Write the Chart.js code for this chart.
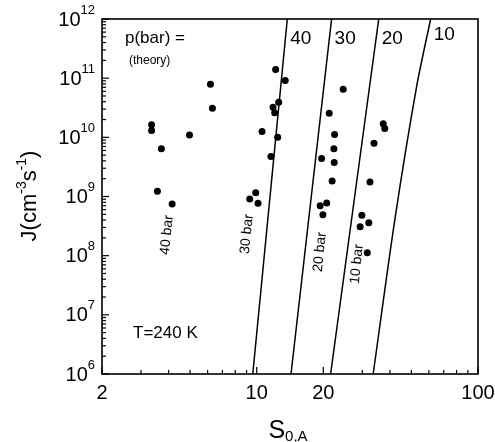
<!DOCTYPE html>
<html>
<head>
<meta charset="utf-8">
<script src="https://cdn.jsdelivr.net/npm/chart.js@4.4.0/dist/chart.umd.min.js"></script>
<style>
  body { margin: 0; background: #fff; }
</style>
</head>
<body>
<canvas id="chart" width="495" height="442"></canvas>
<script>
// measured points: S0,A (x) and J in cm-3 s-1 (y), one pair of arrays per pressure
var s_40bar = [3.35, 3.35, 3.71, 3.56, 4.15, 4.97, 6.18, 6.31];
var j_40bar = [1.63e10, 1.31e10, 6.4e9, 1.23e9, 7.5e8, 1.10e10, 7.9e10, 3.1e10];

var s_30bar = [12.18, 13.46, 12.57, 11.85, 12.06, 10.57, 12.44, 11.60, 9.90, 9.30, 10.14];
var j_30bar = [1.40e11, 9.1e10, 3.93e10, 3.23e10, 2.6e10, 1.26e10, 1.0e10, 4.75e9, 1.16e9, 9.1e8, 7.7e8];

var s_20bar = [24.6, 21.27, 22.49, 22.33, 19.65, 22.4, 21.92, 20.72, 19.35, 19.92];
var j_20bar = [6.5e10, 2.56e10, 1.12e10, 6.4e9, 4.39e9, 3.76e9, 1.83e9, 7.8e8, 6.97e8, 4.93e8];

var s_10bar = [37.3, 37.9, 33.9, 32.5, 29.87, 32.1, 29.34, 31.6];
var j_10bar = [1.69e10, 1.41e10, 7.96e9, 1.75e9, 4.81e8, 3.6e8, 3.08e8, 1.12e8];

// theory curves, p(bar) = 40, 30, 20, 10
var theory_p = ["40", "30", "20", "10"];
var theory_s = [[9.60, 13.75], [14.29, 21.8], [21.58, 35.6], [33.6, 42.1, 52.7, 61.1]];
var theory_j = [[1e6, 1e12], [1e6, 1e12], [1e6, 1e12], [1e6, 4.08e8, 6.95e10, 1e12]];

// axes
var x_ticks = [2, 3, 4, 5, 6, 7, 8, 9, 10, 20, 30, 40, 50, 60, 70, 80, 90, 100];
var x_labels = [2, 10, 20, 100];
var y_exps = [6, 7, 8, 9, 10, 11, 12];

function pts(xs, ys) {
  var out = [];
  for (let i = 0; i < xs.length; i++) out.push({ x: xs[i], y: ys[i] });
  return out;
}

var datasets = [];
for (let i = 0; i < theory_p.length; i++) {
  datasets.push({
    type: "line",
    label: theory_p[i],
    data: pts(theory_s[i], theory_j[i]),
    borderColor: "#000",
    borderWidth: 1.5,
    pointRadius: 0,
    fill: false,
    tension: 0.3,
  });
}
var groups = [[s_40bar, j_40bar], [s_30bar, j_30bar], [s_20bar, j_20bar], [s_10bar, j_10bar]];
for (let i = 0; i < groups.length; i++) {
  datasets.push({
    type: "scatter",
    data: pts(groups[i][0], groups[i][1]),
    backgroundColor: "#000",
    borderColor: "#000",
    pointRadius: 3.5,
    borderWidth: 0,
  });
}

var FONT = "'Liberation Sans', Arial, sans-serif";

// draw a run of text pieces (with super/subscripts), centred on 0,0 of current transform
function drawRun(ctx, pieces) {
  var total = 0;
  pieces.forEach(function (p) {
    ctx.font = p.size + "px " + FONT;
    p.w = ctx.measureText(p.t).width;
    total += p.w;
  });
  var x = -total / 2;
  ctx.textAlign = "left";
  ctx.textBaseline = "middle";
  pieces.forEach(function (p) {
    ctx.font = p.size + "px " + FONT;
    ctx.fillText(p.t, x, p.dy || 0);
    x += p.w;
  });
}

var framePlugin = {
  id: "frame",
  afterDraw: function (chart) {
    var ctx = chart.ctx;
    var a = chart.chartArea;
    var xs = chart.scales.x;
    var ys = chart.scales.y;
    ctx.save();
    ctx.strokeStyle = "#000";
    ctx.fillStyle = "#000";

    // frame
    ctx.lineWidth = 1.6;
    ctx.strokeRect(a.left, a.top, a.right - a.left, a.bottom - a.top);

    // inward ticks, bottom
    ctx.lineWidth = 1.2;
    x_ticks.forEach(function (v) {
      var px = xs.getPixelForValue(v);
      var len = x_labels.indexOf(v) >= 0 ? 7 : 4;
      ctx.beginPath();
      ctx.moveTo(px, a.bottom);
      ctx.lineTo(px, a.bottom - len);
      ctx.stroke();
    });
    // inward ticks, left
    y_exps.forEach(function (e) {
      var py = ys.getPixelForValue(Math.pow(10, e));
      ctx.beginPath();
      ctx.moveTo(a.left, py);
      ctx.lineTo(a.left + 7, py);
      ctx.stroke();
      if (e < 12) {
        for (let m = 2; m <= 9; m++) {
          var pm = ys.getPixelForValue(m * Math.pow(10, e));
          ctx.beginPath();
          ctx.moveTo(a.left, pm);
          ctx.lineTo(a.left + 4, pm);
          ctx.stroke();
        }
      }
    });

    // y tick labels 10^n
    y_exps.forEach(function (e) {
      var py = ys.getPixelForValue(Math.pow(10, e));
      ctx.font = "13px " + FONT;
      var sw = ctx.measureText(String(e)).width;
      ctx.textBaseline = "middle";
      ctx.textAlign = "left";
      ctx.fillText(String(e), 95 - sw, py - 9);
      ctx.font = "20px " + FONT;
      ctx.textAlign = "right";
      ctx.fillText("10", 95 - sw, py + 1);
    });

    // x tick labels
    ctx.font = "20px " + FONT;
    ctx.textAlign = "center";
    ctx.textBaseline = "middle";
    x_labels.forEach(function (v) {
      ctx.fillText(String(v), xs.getPixelForValue(v), 393);
    });

    // axis titles
    ctx.save();
    ctx.translate(288, 431);
    drawRun(ctx, [{ t: "S", size: 25 }, { t: "0,A", size: 15, dy: 6 }]);
    ctx.restore();

    ctx.save();
    ctx.translate(30, 196);
    ctx.rotate(-Math.PI / 2);
    drawRun(ctx, [
      { t: "J(cm", size: 22 },
      { t: "-3", size: 14, dy: -8 },
      { t: "s", size: 22 },
      { t: "-1", size: 14, dy: -8 },
      { t: ")", size: 22 },
    ]);
    ctx.restore();

    // theory labels next to top of each curve
    ctx.font = "19px " + FONT;
    ctx.textAlign = "left";
    ctx.textBaseline = "middle";
    for (let i = 0; i < theory_p.length; i++) {
      var top = theory_s[i][theory_s[i].length - 1];
      ctx.fillText(theory_p[i], xs.getPixelForValue(top) + 3, i == 3 ? 35 : 39);
    }

    ctx.font = "17px " + FONT;
    ctx.fillText("p(bar) =", 125, 38);
    ctx.font = "12px " + FONT;
    ctx.fillText("(theory)", 129, 61);
    ctx.font = "17px " + FONT;
    ctx.fillText("T=240 K", 133, 333);

    // rotated group labels
    var bars = [["40 bar", 167, 235], ["30 bar", 247, 234], ["20 bar", 320, 252], ["10 bar", 357, 264]];
    ctx.font = "14px " + FONT;
    ctx.textAlign = "center";
    bars.forEach(function (b) {
      ctx.save();
      ctx.translate(b[1], b[2]);
      ctx.rotate(-84 * Math.PI / 180);
      ctx.fillText(b[0], 0, 0);
      ctx.restore();
    });

    ctx.restore();
  },
};

const myChart = new Chart(document.getElementById("chart").getContext("2d"), {
  data: { datasets: datasets },
  options: {
    responsive: false,
    animation: false,
    devicePixelRatio: 1,
    layout: { padding: { left: 102, top: 19, right: 17, bottom: 68 } },
    plugins: {
      legend: { display: false },
      tooltip: { enabled: false },
    },
    scales: {
      x: { type: "logarithmic", min: 2, max: 100, display: false },
      y: { type: "logarithmic", min: 1e6, max: 1e12, display: false },
    },
  },
  plugins: [framePlugin],
});
</script>
</body>
</html>
